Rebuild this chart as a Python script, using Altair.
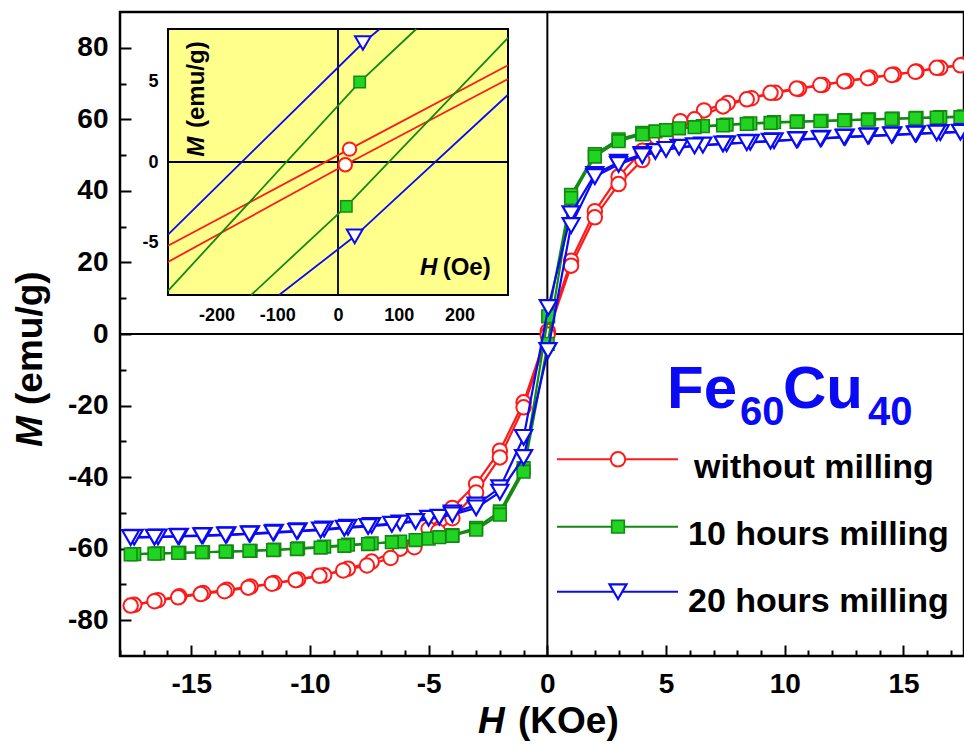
import altair as alt
import pandas as pd

FONT = "Liberation Sans"
RED = "#FF1A1A"
GREEN_LINE = "#128A12"
GREEN_FILL = "#22D422"
BLUE = "#0A0AF5"
YELLOW = "#FFFF8C"

# ---------------- main hysteresis loops (H in kOe, M in emu/g) ----------------
red_desc_H = [17.55, 16.55, 15.55, 14.6, 13.6, 12.6, 11.6, 10.6, 9.6, 8.6, 7.6, 6.6, 5.6, 4.6, 4.0, 3.0, 2.0, 1.0, 0.019,
              -1.0, -2.0, -3.0, -4.0, -5.0, -6.2, -7.4, -8.4, -9.4, -10.5, -11.5, -12.5, -13.5, -14.5, -15.5, -16.4, -17.4]
red_desc_M = [75.3, 74.4, 73.4, 72.5, 71.7, 70.7, 69.6, 68.5, 67.4, 65.9, 64.6, 62.5, 59.5, 55.0, 51.2, 44.0, 34.3, 20.5, 0.8,
              -19.1, -32.6, -41.9, -48.6, -54.5, -60.0, -63.6, -65.6, -67.4, -68.6, -69.6, -70.6, -71.5, -72.4, -73.3, -74.4, -75.7]
red_asc_H = [-17.55, -16.55, -15.55, -14.6, -13.6, -12.6, -11.6, -10.6, -9.6, -8.6, -7.6, -6.6, -5.6, -4.6, -4.0, -3.0, -2.0, -1.0, 0.012,
             1.0, 2.0, 3.0, 4.0, 5.0, 6.2, 7.4, 8.4, 9.4, 10.5, 11.5, 12.5, 13.5, 14.5, 15.5, 16.4, 17.4]
red_asc_M = [-75.9, -74.7, -73.6, -72.7, -71.9, -70.9, -69.8, -68.8, -67.6, -66.1, -64.7, -62.6, -59.6, -55.2, -51.5, -44.3, -34.5, -20.5, -0.17,
             19.1, 32.6, 41.9, 48.6, 54.5, 60.0, 63.6, 65.6, 67.4, 68.6, 69.6, 70.6, 71.5, 72.4, 73.3, 74.4, 75.1]

green_desc_H = [17.55, 16.55, 15.55, 14.55, 13.55, 12.55, 11.55, 10.55, 9.55, 8.55, 7.55, 6.55, 5.55, 4.55, 4.0, 3.0, 2.0, 1.0, 0.036,
                -1.0, -2.0, -3.0, -4.0, -5.0, -6.2, -7.4, -8.4, -9.4, -10.5, -11.5, -12.5, -13.5, -14.5, -15.5, -16.4, -17.4]
green_desc_M = [60.8, 60.6, 60.4, 60.2, 60.0, 59.8, 59.6, 59.4, 59.2, 58.9, 58.5, 58.1, 57.5, 56.6, 56.2, 54.4, 50.3, 38.9, 4.96,
                -37.5, -49.6, -54.2, -56.2, -57.2, -58.0, -58.5, -58.9, -59.4, -59.9, -60.3, -60.6, -60.8, -61.0, -61.2, -61.3, -61.5]
green_asc_H = [-17.55, -16.55, -15.55, -14.55, -13.55, -12.55, -11.55, -10.55, -9.55, -8.55, -7.55, -6.55, -5.55, -4.55, -4.0, -3.0, -2.0, -1.0, 0.014,
               1.0, 2.0, 3.0, 4.0, 5.0, 6.2, 7.4, 8.4, 9.4, 10.5, 11.5, 12.5, 13.5, 14.5, 15.5, 16.4, 17.4]
green_asc_M = [-61.6, -61.4, -61.2, -61.0, -60.8, -60.6, -60.4, -60.1, -59.7, -59.2, -58.7, -58.2, -57.6, -56.8, -56.4, -54.7, -50.5, -38.5, -2.75,
               38.0, 49.6, 53.9, 55.8, 57.0, 57.8, 58.3, 58.7, 59.0, 59.3, 59.5, 59.7, 59.9, 60.1, 60.3, 60.5, 60.6]

blue_desc_H = [17.55, 16.55, 15.55, 14.55, 13.55, 12.55, 11.55, 10.55, 9.55, 8.55, 7.55, 6.55, 5.55, 4.55, 4.0, 3.0, 2.0, 1.0, 0.041,
               -1.0, -2.0, -3.0, -4.0, -5.0, -6.2, -7.4, -8.4, -9.4, -10.5, -11.5, -12.5, -13.5, -14.5, -15.5, -16.4, -17.4]
blue_desc_M = [56.6, 56.3, 56.0, 55.7, 55.4, 55.1, 54.7, 54.4, 54.0, 53.6, 53.2, 52.8, 52.2, 51.0, 50.2, 48.0, 44.6, 33.6, 7.38,
               -28.9, -43.0, -47.8, -50.0, -51.5, -52.8, -53.5, -54.0, -54.5, -55.0, -55.4, -55.8, -56.1, -56.3, -56.5, -56.7, -56.8]
blue_asc_H = [-17.55, -16.55, -15.55, -14.55, -13.55, -12.55, -11.55, -10.55, -9.55, -8.55, -7.55, -6.55, -5.55, -4.55, -4.0, -3.0, -2.0, -1.0, 0.0275,
              1.0, 2.0, 3.0, 4.0, 5.0, 6.2, 7.4, 8.4, 9.4, 10.5, 11.5, 12.5, 13.5, 14.5, 15.5, 16.4, 17.4]
blue_asc_M = [-56.9, -56.8, -56.6, -56.4, -56.2, -55.9, -55.6, -55.2, -54.8, -54.3, -53.8, -53.2, -52.4, -51.2, -50.5, -48.6, -44.2, -34.5, -4.61,
              30.3, 44.0, 47.4, 49.8, 51.6, 52.6, 53.1, 53.5, 53.9, 54.3, 54.6, 55.0, 55.3, 55.6, 55.9, 56.2, 56.4]

# ---------------- inset (H in Oe, M in emu/g) ----------------
inset_red_desc_H = [-280, 19, 280]
inset_red_desc_M = [-5.2, 0.8, 6.0]
inset_red_asc_H = [-280, 12, 280]
inset_red_asc_M = [-6.2, -0.17, 5.15]
inset_green_desc_H = [-280, 35.7, 129]
inset_green_desc_M = [-8.0, 4.96, 8.25]
inset_green_asc_H = [-143, 13.7, 280]
inset_green_asc_M = [-8.25, -2.75, 7.7]
inset_blue_desc_H = [-280, 41, 68.7]
inset_blue_desc_M = [-4.5, 7.38, 8.25]
inset_blue_asc_H = [-97, 27.5, 280]
inset_blue_asc_M = [-8.25, -4.61, 4.17]
inset_marker_H = {"red": [19, 12], "green": [35.7, 13.7], "blue": [41, 27.5]}
inset_marker_M = {"red": [0.8, -0.17], "green": [4.96, -2.75], "blue": [7.38, -4.61]}

# ---------------- texts ----------------
legend_labels = ["without milling", "10 hours milling", "20 hours milling"]
formula_parts = ["Fe", "60", "Cu", "40"]
x_title = ["H", "(KOe)"]
y_title = ["M", "(emu/g)"]
inset_x_title = ["H", "(Oe)"]
inset_y_title = ["M", "(emu/g)"]

# scale domains / tick values
X_DOMAIN = [-18, 17.55]
Y_DOMAIN = [-90, 90]
X_MAJOR = [-15, -10, -5, 0, 5, 10, 15]
X_MINOR = [v for v in range(-18, 18) if v % 5 != 0]
Y_MAJOR = [-80, -60, -40, -20, 0, 20, 40, 60, 80]
Y_MINOR = [-70, -50, -30, -10, 10, 30, 50, 70]
IX_DOMAIN = [-280, 280]
IY_DOMAIN = [-8.25, 8.25]
IX_MAJOR = [-200, -100, 0, 100, 200]
IX_MINOR = [-250, -150, -50, 50, 150, 250]
IY_MAJOR = [-5, 0, 5]
IY_MINOR = [v for v in range(-8, 9) if v % 5 != 0]

W, HGT = 844, 644
INSET_X_RANGE = [48, 388]
INSET_Y_RANGE = [283, 17]


def branches(H1, M1, H2, M2):
    a = pd.DataFrame({"H": H1, "M": M1, "branch": "desc", "idx": list(range(len(H1)))})
    b = pd.DataFrame({"H": H2, "M": M2, "branch": "asc", "idx": list(range(len(H2)))})
    return pd.concat([a, b], ignore_index=True)


one = pd.DataFrame({"k": [0]})


def xs():
    return alt.Scale(domain=X_DOMAIN, nice=False, zero=False)


def ys():
    return alt.Scale(domain=Y_DOMAIN, nice=False, zero=False)


def xi():
    return alt.Scale(domain=IX_DOMAIN, range=INSET_X_RANGE, nice=False, zero=False)


def yi():
    return alt.Scale(domain=IY_DOMAIN, range=INSET_Y_RANGE, nice=False, zero=False)


def tick_axis(orient, values, size, offset, width, labels, font_size=28, pad=12):
    kw = dict(orient=orient, values=values, offset=offset, tickSize=size, tickWidth=width,
              tickColor="black", domain=False, grid=False, title=None)
    if labels:
        kw.update(labelExpr="'' + datum.value", labelFont=FONT, labelFontSize=font_size,
                  labelFontWeight="bold", labelColor="black", labelPadding=pad,
                  labelOverlap=False, labelFlush=False)
    else:
        kw.update(labels=False)
    return alt.Axis(**kw)


series = [
    ("red", branches(red_desc_H, red_desc_M, red_asc_H, red_asc_M), RED, "circle", "white", RED, 210, 2),
    ("green", branches(green_desc_H, green_desc_M, green_asc_H, green_asc_M), GREEN_LINE, "square", GREEN_FILL, GREEN_LINE, 160, 1.6),
    ("blue", branches(blue_desc_H, blue_desc_M, blue_asc_H, blue_asc_M), BLUE, "triangle-down", "white", BLUE, 290, 2.2),
]

layers = []
# main zero lines
layers.append(alt.Chart(one).mark_rule(color="black", strokeWidth=2).encode(
    x=alt.XDatum(0, scale=xs(), axis=None)))
layers.append(alt.Chart(one).mark_rule(color="black", strokeWidth=2).encode(
    y=alt.YDatum(0, scale=ys(), axis=None)))

# main axes: majors on red line layer, minors on red point layer
main_axes = {
    "red_line": (tick_axis("bottom", X_MAJOR, 11, -11, 2, True, pad=14),
                 tick_axis("left", Y_MAJOR, 11, -11, 2, True, pad=12)),
    "red_point": (tick_axis("bottom", X_MINOR, 6, -6, 2, False),
                  tick_axis("left", Y_MINOR, 6, -6, 2, False)),
}

for name, df, lcolor, shape, fill, stroke, size, sw in series:
    ax = main_axes.get(name + "_line", (None, None))
    layers.append(alt.Chart(df).mark_line(color=lcolor, strokeWidth=2.2).encode(
        x=alt.X("H:Q", scale=xs(), axis=ax[0]),
        y=alt.Y("M:Q", scale=ys(), axis=ax[1]),
        detail="branch:N", order="idx:Q"))
    ax = main_axes.get(name + "_point", (None, None))
    layers.append(alt.Chart(df).mark_point(
        shape=shape, size=size, filled=True, fill=fill, stroke=stroke, strokeWidth=sw, opacity=1).encode(
        x=alt.X("H:Q", scale=xs(), axis=ax[0]),
        y=alt.Y("M:Q", scale=ys(), axis=ax[1])))


def txt(s, x, y, size, color="black", italic=False, angle=0, align="left", baseline="alphabetic"):
    kw = dict(text=s, font=FONT, fontSize=size, fontWeight="bold", color=color, align=align, baseline=baseline)
    if italic:
        kw["fontStyle"] = "italic"
    if angle:
        kw["angle"] = angle
    return alt.Chart(one).mark_text(**kw).encode(x=alt.value(x), y=alt.value(y))


# legend
legend_y = [447.3, 514.7, 579.7]
legend_tx = [574, 568, 568]
legend_ty = [466.3, 533, 599.7]
for (name, df, lcolor, shape, fill, stroke, size, sw), ly, tx, ty, lab in zip(series, legend_y, legend_tx, legend_ty, legend_labels):
    layers.append(alt.Chart(one).mark_rule(color=lcolor, strokeWidth=2).encode(
        x=alt.value(437), x2=alt.value(558), y=alt.value(ly)))
    layers.append(alt.Chart(one).mark_point(
        shape=shape, size=size, filled=True, fill=fill, stroke=stroke, strokeWidth=sw, opacity=1).encode(
        x=alt.value(498), y=alt.value(ly)))
    layers.append(txt(lab, tx, ty, 34))

# formula Fe60Cu40
for part, px, py, fs in zip(formula_parts, [547, 620, 663, 748], [396, 413, 396, 413], [60, 40, 60, 40]):
    layers.append(txt(part, px, py, fs, color=BLUE))

# axis titles
layers.append(txt(x_title[0], 358, 721, 37, italic=True))
layers.append(txt(x_title[1], 398, 721, 37))
layers.append(txt(y_title[0], -89, 435, 37, italic=True, angle=270, baseline="middle"))
layers.append(txt(y_title[1], -89, 393, 37, angle=270, baseline="middle"))

# ---------------- inset ----------------
inset_bottom_off = -(HGT - INSET_Y_RANGE[0])
inset_left_off = -INSET_X_RANGE[0]

layers.append(alt.Chart(one).mark_rect(fill=YELLOW, stroke="black", strokeWidth=2).encode(
    x=alt.XDatum(IX_DOMAIN[0], scale=xi(), axis=tick_axis("bottom", IX_MAJOR, 7, inset_bottom_off - 7, 1.5, True, font_size=18, pad=11)),
    x2=alt.X2Datum(IX_DOMAIN[1]),
    y=alt.YDatum(IY_DOMAIN[0], scale=yi(), axis=tick_axis("left", IY_MAJOR, 7, inset_left_off - 7, 1.5, True, font_size=18, pad=10)),
    y2=alt.Y2Datum(IY_DOMAIN[1])))
layers.append(alt.Chart(one).mark_rule(color="black", strokeWidth=1.8).encode(
    x=alt.XDatum(0, scale=xi(), axis=tick_axis("bottom", IX_MINOR, 4, inset_bottom_off - 4, 1.5, False)),
    y=alt.YDatum(IY_DOMAIN[0], scale=yi(), axis=tick_axis("left", IY_MINOR, 4, inset_left_off - 4, 1.5, False)),
    y2=alt.Y2Datum(IY_DOMAIN[1])))
layers.append(alt.Chart(one).mark_rule(color="black", strokeWidth=1.8).encode(
    y=alt.YDatum(0, scale=yi(), axis=None),
    x=alt.XDatum(IX_DOMAIN[0], scale=xi(), axis=None), x2=alt.X2Datum(IX_DOMAIN[1])))

inset_series = [
    ("red", branches(inset_red_desc_H, inset_red_desc_M, inset_red_asc_H, inset_red_asc_M), RED, "circle", "white", RED, 180, 2),
    ("green", branches(inset_green_desc_H, inset_green_desc_M, inset_green_asc_H, inset_green_asc_M), GREEN_LINE, "square", GREEN_FILL, GREEN_LINE, 130, 1.5),
    ("blue", branches(inset_blue_desc_H, inset_blue_desc_M, inset_blue_asc_H, inset_blue_asc_M), BLUE, "triangle-down", "white", BLUE, 250, 2),
]
for name, df, lcolor, shape, fill, stroke, size, sw in inset_series:
    layers.append(alt.Chart(df).mark_line(color=lcolor, strokeWidth=1.8).encode(
        x=alt.X("H:Q", scale=xi(), axis=None), y=alt.Y("M:Q", scale=yi(), axis=None),
        detail="branch:N", order="idx:Q"))
for name, df, lcolor, shape, fill, stroke, size, sw in inset_series:
    mdf = pd.DataFrame({"H": inset_marker_H[name], "M": inset_marker_M[name]})
    layers.append(alt.Chart(mdf).mark_point(
        shape=shape, size=size, filled=True, fill=fill, stroke=stroke, strokeWidth=sw, opacity=1).encode(
        x=alt.X("H:Q", scale=xi(), axis=None), y=alt.Y("M:Q", scale=yi(), axis=None)))

layers.append(txt(inset_x_title[0], 300, 263, 24, italic=True))
layers.append(txt(inset_x_title[1], 322.7, 263, 24))
layers.append(txt(inset_y_title[0], 77.3, 144.7, 24, italic=True, angle=270, baseline="middle"))
layers.append(txt(inset_y_title[1], 77.3, 116, 24, angle=270, baseline="middle"))

chart = alt.layer(*layers).resolve_scale(x="independent", y="independent").properties(
    width=W, height=HGT,
    padding={"left": 120, "top": 12, "right": 0, "bottom": 89},
    autosize=alt.AutoSizeParams(type="none"),
    background="white",
).configure_view(stroke="black", strokeWidth=2.5)

chart.save("out.html", embed_options={"renderer": "svg", "actions": False})
